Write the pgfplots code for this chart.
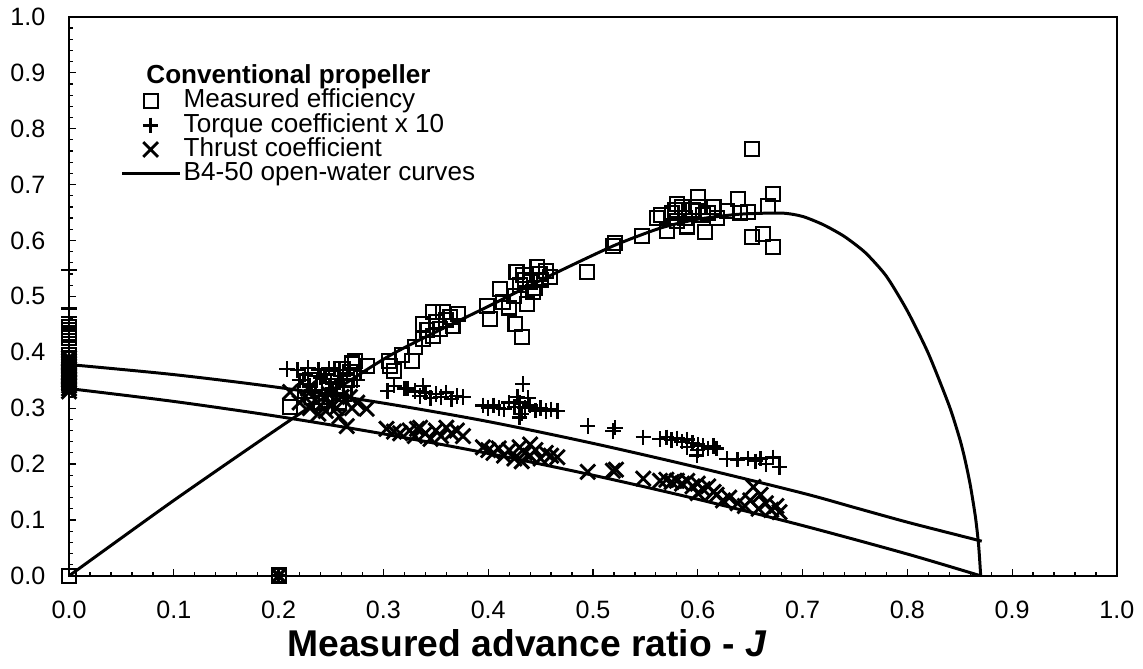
\documentclass[border=0pt]{standalone}
\usepackage{fontspec}
\setmainfont{Liberation Sans}
\usepackage{pgfplots}
\pgfplotsset{compat=1.18}
\begin{document}
\begin{tikzpicture}
\begin{axis}[
  name=ax,
  scale only axis,
  width=421.8pt, height=225pt,
  xmin=0, xmax=1, ymin=0, ymax=1,
  xtick={0,0.1,...,1.0}, ytick={0,0.1,...,1.0},
  minor tick num=4,
  tick align=inside,
  xtick pos=bottom, ytick pos=left,
  major tick length=2.6pt, minor tick length=1.6pt,
  tick style={black, line width=0.5pt},
  axis line style={line width=0.6pt},
  /pgf/number format/assume math mode=true,
  /pgf/number format/.cd, fixed, fixed zerofill, precision=1, /pgfplots/.cd,
  ticklabel style={font=\fontsize{10.1}{12}\selectfont},
  xticklabel style={yshift=-6.5pt},
  yticklabel style={xshift=-6pt},
  xlabel={\textbf{Measured advance ratio - \textit{J}}},
  xlabel style={font=\fontsize{15}{18}\selectfont, at={(axis description cs:0.437,0)}, anchor=north, inner sep=0pt, yshift=-21.3pt},
  legend style={at={(axis cs:0.049,0.917)}, anchor=north west, draw=none, fill=none,
    font=\fontsize{10.5}{12}\selectfont, inner sep=0pt, row sep=-1.1pt,
    nodes={inner sep=0.5pt, text height=7.6pt, text depth=2.2pt}},
  legend cell align=left,
  legend image code/.code={\path[draw=none, fill=none] (0cm,-2pt) rectangle (0.85cm,2pt);
    \draw[mark repeat=2,mark phase=2] plot coordinates {(0cm,0cm) (0.4cm,0cm) (0.81cm,0cm)};},
]
\addlegendimage{empty legend}
\addlegendentry{\hspace{-15pt}\textbf{Conventional propeller}}

% Measured efficiency
\addplot[only marks, mark=square, mark size=2.8pt, mark options={line width=0.85pt}] coordinates {
(0,0.445)(0,0.44)(0,0.435)(0,0.43)(0,0.425)(0,0.395)(0,0.39)(0,0.38)(0,0.37)(0,0.36)(0,0.35)(0,0.345)
(0,0)(0.2,0)(0.2,0.001)
(0.211,0.302)(0.225,0.33)(0.235,0.345)(0.245,0.32)(0.25,0.36)(0.255,0.34)(0.26,0.37)(0.265,0.35)
(0.27,0.38)(0.273,0.385)(0.284,0.376)(0.24,0.31)(0.23,0.35)(0.262,0.325)(0.268,0.365)
(0.232,0.32)(0.248,0.335)(0.258,0.31)(0.252,0.355)(0.242,0.34)
(0.306,0.376)(0.310,0.367)(0.305,0.385)(0.318,0.395)
(0.327,0.385)(0.330,0.41)(0.338,0.424)(0.338,0.451)(0.347,0.472)(0.357,0.472)(0.364,0.463)(0.371,0.469)
(0.366,0.447)(0.354,0.442)(0.347,0.429)(0.35,0.455)(0.36,0.458)(0.342,0.44)
(0.399,0.483)(0.402,0.460)(0.411,0.513)(0.414,0.490)(0.426,0.451)(0.432,0.428)(0.427,0.544)(0.447,0.553)
(0.449,0.540)(0.459,0.535)(0.437,0.487)(0.443,0.508)(0.43,0.52)(0.435,0.53)(0.44,0.525)(0.425,0.50)
(0.45,0.53)(0.445,0.515)(0.42,0.48)(0.455,0.545)(0.433,0.538)
(0.494,0.544)(0.519,0.590)(0.521,0.595)(0.547,0.608)
(0.561,0.64)(0.565,0.645)(0.571,0.617)(0.575,0.65)(0.578,0.655)(0.58,0.635)(0.585,0.66)(0.588,0.64)
(0.59,0.625)(0.595,0.655)(0.600,0.678)(0.60,0.66)(0.605,0.645)(0.607,0.615)(0.61,0.65)(0.615,0.66)
(0.618,0.64)(0.58,0.665)
(0.628,0.653)(0.638,0.674)(0.64,0.65)(0.648,0.651)(0.652,0.764)(0.667,0.662)(0.672,0.683)
(0.652,0.606)(0.662,0.612)(0.672,0.589)
};
\addlegendentry{Measured efficiency}

% Torque coefficient x 10
\addplot[only marks, mark=+, mark size=3.1pt, mark options={line width=0.95pt}] coordinates {
(0,0.547)(0,0.478)(0,0.463)(0,0.40)(0,0.39)(0,0.38)(0,0.37)(0,0.36)
(0.208,0.37)(0.218,0.368)(0.228,0.372)(0.238,0.369)(0.248,0.371)(0.258,0.368)(0.268,0.37)(0.278,0.366)
(0.22,0.35)(0.23,0.34)(0.24,0.355)(0.25,0.345)(0.26,0.35)(0.27,0.34)(0.235,0.33)(0.255,0.325)
(0.265,0.36)(0.245,0.36)(0.275,0.35)(0.225,0.36)(0.252,0.335)(0.262,0.34)
(0.304,0.331)(0.31,0.34)(0.33,0.331)(0.32,0.335)
(0.323,0.335)(0.33,0.33)(0.335,0.322)(0.34,0.328)(0.345,0.318)(0.35,0.325)(0.355,0.32)(0.36,0.328)
(0.365,0.316)(0.37,0.322)(0.376,0.32)(0.338,0.34)
(0.433,0.343)
(0.395,0.305)(0.40,0.30)(0.405,0.305)(0.41,0.30)(0.415,0.298)(0.42,0.31)(0.425,0.302)(0.43,0.31)
(0.432,0.29)(0.435,0.30)(0.44,0.305)(0.43,0.283)(0.445,0.296)(0.45,0.30)(0.455,0.295)(0.46,0.298)
(0.466,0.295)(0.438,0.318)(0.428,0.32)
(0.495,0.268)(0.519,0.259)(0.521,0.265)(0.548,0.248)
(0.564,0.245)(0.57,0.248)(0.575,0.243)(0.58,0.246)(0.585,0.24)(0.59,0.244)(0.595,0.238)(0.60,0.235)
(0.599,0.215)(0.605,0.232)(0.61,0.228)(0.615,0.232)(0.618,0.228)(0.60,0.225)(0.59,0.23)
(0.628,0.209)(0.638,0.208)(0.648,0.21)(0.655,0.205)(0.66,0.21)(0.665,0.2)(0.672,0.212)(0.678,0.195)
};
\addlegendentry{Torque coefficient x 10}

% Thrust coefficient
\addplot[only marks, mark=x, mark size=4.2pt, mark options={line width=1.15pt}] coordinates {
(0,0.33)(0,0.335)(0,0.34)(0,0.345)(0,0.35)(0,0.355)(0,0.36)(0,0.365)(0,0.37)(0,0.375)(0,0.38)(0,0.385)(0,0.39)
(0.211,0.329)(0.22,0.31)(0.225,0.32)(0.23,0.30)(0.235,0.315)(0.24,0.305)(0.245,0.295)(0.25,0.31)
(0.255,0.30)(0.26,0.32)(0.265,0.268)(0.27,0.30)(0.275,0.31)(0.284,0.299)(0.228,0.335)(0.248,0.325)
(0.238,0.29)(0.258,0.285)(0.268,0.32)
(0.303,0.263)(0.31,0.258)(0.332,0.263)
(0.316,0.255)(0.325,0.26)(0.33,0.25)(0.335,0.265)(0.34,0.255)(0.345,0.245)(0.35,0.26)(0.355,0.25)
(0.36,0.265)(0.365,0.255)(0.37,0.26)(0.376,0.25)
(0.395,0.23)(0.40,0.225)(0.405,0.22)(0.41,0.228)(0.415,0.215)(0.42,0.225)(0.425,0.21)(0.43,0.23)
(0.435,0.22)(0.44,0.215)(0.445,0.225)(0.45,0.21)(0.455,0.22)(0.46,0.215)(0.466,0.212)(0.432,0.205)(0.44,0.235)
(0.495,0.186)(0.519,0.188)(0.522,0.19)(0.548,0.174)
(0.564,0.17)(0.57,0.172)(0.575,0.168)(0.58,0.17)(0.585,0.165)(0.59,0.17)(0.595,0.16)(0.60,0.165)
(0.605,0.155)(0.61,0.16)(0.615,0.15)(0.618,0.145)(0.60,0.148)
(0.624,0.135)(0.63,0.14)(0.638,0.13)(0.645,0.125)(0.65,0.135)(0.653,0.159)(0.658,0.12)(0.665,0.13)
(0.67,0.118)(0.675,0.125)(0.678,0.114)(0.66,0.145)
};
\addlegendentry{Thrust coefficient}

% B4-50 open-water curves
\addplot[black, line width=1.2pt, smooth, tension=0.4] coordinates {
(0,0)(0.1,0.135)(0.213,0.281)(0.306,0.394)(0.4,0.482)(0.459,0.537)(0.519,0.590)(0.564,0.622)
(0.6,0.638)(0.64,0.647)(0.68,0.649)(0.70,0.643)(0.72,0.628)(0.74,0.607)(0.76,0.578)(0.78,0.536)
(0.80,0.474)(0.82,0.398)(0.84,0.304)(0.85,0.245)(0.855,0.208)(0.86,0.163)(0.865,0.105)(0.868,0.055)(0.87,0.0)
};
\addlegendentry{B4-50 open-water curves}
\addplot[black, line width=1.2pt, smooth, forget plot] coordinates {
(0,0.378)(0.1,0.360)(0.2,0.337)(0.3,0.309)(0.4,0.276)(0.5,0.237)(0.6,0.194)(0.7,0.148)
(0.75,0.122)(0.8,0.096)(0.85,0.072)(0.871,0.062)
};
\addplot[black, line width=1.2pt, smooth, forget plot] coordinates {
(0,0.335)(0.1,0.312)(0.2,0.285)(0.3,0.254)(0.4,0.219)(0.5,0.180)(0.6,0.137)(0.7,0.090)
(0.8,0.039)(0.87,0.0)
};
% overlapping markers at J=0.2, zero
\addplot[only marks, mark=+, mark size=2.6pt, mark options={line width=1.2pt}, forget plot] coordinates {(0.2,0)};
\addplot[only marks, mark=x, mark size=3.6pt, mark options={line width=1.4pt}, forget plot] coordinates {(0.2,0)};
\end{axis}
\pgfresetboundingbox
\path[use as bounding box] ([xshift=-27.8pt,yshift=-37.4pt]ax.south west) rectangle ([xshift=10.5pt,yshift=6.8pt]ax.north east);
\end{tikzpicture}
\end{document}
